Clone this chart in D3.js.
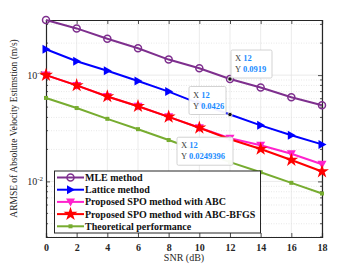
<!DOCTYPE html>
<html><head><meta charset="utf-8">
<script src="https://cdn.jsdelivr.net/npm/d3@7"></script>
<style>body{margin:0;background:#fff}svg{display:block}</style>
</head><body><svg id="c" width="356" height="267"></svg>
<script>
const snr = [0,2,4,6,8,10,12,14,16,18];
const mle = [0.33,0.275,0.22,0.179,0.14,0.116,0.0919,0.0765,0.062,0.052];
const lattice = [0.175,0.135,0.11,0.088,0.070,0.054,0.0426,0.0337,0.0272,0.0223];
const spoAbc = [0.100,0.080,0.063,0.051,0.0405,0.032,0.0255,0.0219,0.0182,0.0145];
const spoBfgs = [0.100,0.080,0.063,0.051,0.0405,0.032,0.0249396,0.0202,0.0159,0.0124];
const theory = [0.061,0.049,0.0388,0.031,0.0245,0.0192,0.0152,0.0122,0.0097,0.0077];
const xTicks = [0,2,4,6,8,10,12,14,16,18];
const yMajor = [0.1,0.01];
const seriesNames = ["MLE method","Lattice method","Proposed SPO method with ABC","Proposed SPO method with ABC-BFGS","Theoretical performance"];
const tips = [{x:12,y:0.0919,label:"0.0919",s:0},{x:12,y:0.0426,label:"0.0426",s:1},{x:12,y:0.0249396,label:"0.0249396",s:3}];

const svg = d3.select("#c");
const L=46,R=322,T=20,B=237;
const x = d3.scaleLinear().domain([0,18]).range([L,R]);
const y = d3.scaleLog().domain([0.003,0.33]).range([B,T]);
const font = "'Liberation Serif','Times New Roman',serif";

// grid
const minor = [];
for (let e=-3;e<=-1;e++) for (let m=1;m<=9;m++){const v=m*Math.pow(10,e); if(v>=0.003&&v<=0.33) minor.push(v);}
svg.append("g").selectAll("line").data(minor.filter(v=>!yMajor.includes(v))).join("line")
 .attr("x1",L).attr("x2",R).attr("y1",d=>y(d)).attr("y2",d=>y(d))
 .attr("stroke","#d8d8d8").attr("stroke-width",0.6).attr("stroke-dasharray","1,1.5");
svg.append("g").selectAll("line").data(yMajor).join("line")
 .attr("x1",L).attr("x2",R).attr("y1",d=>y(d)).attr("y2",d=>y(d))
 .attr("stroke","#e3e3e3").attr("stroke-width",0.7);
svg.append("g").selectAll("line").data(xTicks.slice(1)).join("line")
 .attr("x1",d=>x(d)).attr("x2",d=>x(d)).attr("y1",T).attr("y2",B)
 .attr("stroke","#e3e3e3").attr("stroke-width",0.7);

// axes
const xa = svg.append("g").attr("transform",`translate(0,${B})`)
 .call(d3.axisBottom(x).tickValues(xTicks).tickSize(-4).tickPadding(7).tickFormat(d3.format("d")));
const xt = svg.append("g").attr("transform",`translate(0,${T})`)
 .call(d3.axisTop(x).tickValues(xTicks).tickSize(-4).tickFormat(""));
const ya = svg.append("g").attr("transform",`translate(${L},0)`)
 .call(d3.axisLeft(y).tickValues(yMajor).tickSize(-4).tickFormat(""));
const yr = svg.append("g").attr("transform",`translate(${R},0)`)
 .call(d3.axisRight(y).tickValues(yMajor).tickSize(-4).tickFormat(""));
const ymn = minor.filter(v=>!yMajor.includes(v));
svg.append("g").selectAll("line").data(ymn).join("line").attr("x1",L).attr("x2",L+2).attr("y1",d=>y(d)).attr("y2",d=>y(d)).attr("stroke","#262626").attr("stroke-width",0.8);
svg.append("g").selectAll("line").data(ymn).join("line").attr("x1",R).attr("x2",R-2).attr("y1",d=>y(d)).attr("y2",d=>y(d)).attr("stroke","#262626").attr("stroke-width",0.8);
[xa,xt,ya,yr].forEach(g=>{g.select(".domain").attr("stroke","#262626").attr("stroke-width",1.2);g.selectAll(".tick line").attr("stroke","#262626").attr("stroke-width",0.8);});
xa.selectAll("text").attr("font-family",font).attr("font-weight","bold").attr("font-size",10).attr("fill","#262626");

// y tick labels with superscripts
yMajor.forEach(v=>{
  const t = svg.append("text").attr("x",L-3).attr("y",y(v)+3.5).attr("text-anchor","end")
   .attr("font-family",font).attr("font-size",10).attr("fill","#262626");
  t.append("tspan").text("10");
  t.append("tspan").attr("dy",-4).attr("font-size",7).text("-"+Math.round(-Math.log10(v)));
});

svg.append("text").attr("x",(L+R)/2).attr("y",261).attr("text-anchor","middle")
 .attr("font-family",font).attr("font-size",10).attr("fill","#262626").text("SNR (dB)");
svg.append("text").attr("transform",`translate(17,${(T+B)/2}) rotate(-90)`).attr("text-anchor","middle")
 .attr("font-family",font).attr("font-size",9.5).attr("fill","#262626").text("ARMSE of Absolute Velocity Estimstion (m/s)");

const colors = ["#7E2F8E","#0000FF","#FF22CC","#FF0000","#77AC30"];
const data = [mle,lattice,spoAbc,spoBfgs,theory];
const line = d3.line().x((d,i)=>x(snr[i])).y(d=>y(d));

function marker(g, k, cx, cy){
  const c = colors[k];
  if(k===0) g.append("circle").attr("cx",cx).attr("cy",cy).attr("r",3.5).attr("fill","none").attr("stroke",c).attr("stroke-width",1.5);
  else if(k===1) g.append("path").attr("d",`M${cx-3.5},${cy-4.5}L${cx+4.5},${cy}L${cx-3.5},${cy+4.5}Z`).attr("fill",c);
  else if(k===2) g.append("path").attr("d",`M${cx-4.5},${cy-3.5}L${cx+4.5},${cy-3.5}L${cx},${cy+4.5}Z`).attr("fill",c);
  else if(k===3) g.append("path").attr("d",d3.symbol(d3.symbolStar,60)()).attr("transform",`translate(${cx},${cy})`).attr("fill",c);
  else g.append("rect").attr("x",cx-2).attr("y",cy-2).attr("width",4).attr("height",4).attr("fill",c);
}

data.forEach((vals,k)=>{
  const g = svg.append("g");
  g.append("path").datum(vals).attr("d",line).attr("fill","none").attr("stroke",colors[k]).attr("stroke-width",2);
  vals.forEach((v,i)=>{ if(!(k<=3 && snr[i]===12 && tips.some(t=>t.s===k))) marker(g,k,x(snr[i]),y(v)); else if(k===0) marker(g,k,x(snr[i]),y(v)); });
});

// datatips
const tipBoxes = [{dx:1,dy:-29,w:41,h:28},{dx:-41,dy:-28,w:37,h:28},{dx:-53,dy:-2,w:56,h:28}];
tips.forEach((t,i)=>{
  const px=x(t.x), py=y(t.y), b=tipBoxes[i];
  svg.append("circle").attr("cx",px).attr("cy",py).attr("r",2.2).attr("fill","#111").attr("stroke","#fff").attr("stroke-width",0.8);
  const bx=px+b.dx, by=py+b.dy;
  svg.append("rect").attr("x",bx).attr("y",by).attr("width",b.w).attr("height",b.h).attr("rx",1.5)
   .attr("fill","#fff").attr("fill-opacity",0.95).attr("stroke","#c8c8c8").attr("stroke-width",0.8);
  const t1 = svg.append("text").attr("x",bx+4).attr("y",by+11).attr("font-family",font).attr("font-size",8.5).attr("fill","#404040");
  t1.append("tspan").text("X ");
  t1.append("tspan").attr("fill","#1a8cff").attr("font-weight","bold").text(t.x);
  const t2 = svg.append("text").attr("x",bx+4).attr("y",by+22).attr("font-family",font).attr("font-size",8.5).attr("fill","#404040");
  t2.append("tspan").text("Y ");
  t2.append("tspan").attr("fill","#1a8cff").attr("font-weight","bold").text(t.label);
});

// legend
const lg = svg.append("g");
lg.append("rect").attr("x",54.5).attr("y",171).attr("width",206).attr("height",62).attr("fill","#fff").attr("stroke","#262626").attr("stroke-width",1);
seriesNames.forEach((n,k)=>{
  const ly = 177.5 + k*12.2;
  lg.append("line").attr("x1",57).attr("x2",84).attr("y1",ly).attr("y2",ly).attr("stroke",colors[k]).attr("stroke-width",2);
  marker(lg,k,70.5,ly);
  lg.append("text").attr("x",85).attr("y",ly+3.5).attr("font-family",font).attr("font-weight","bold").attr("font-size",10).attr("fill","#111").text(n);
});
</script></body></html>
